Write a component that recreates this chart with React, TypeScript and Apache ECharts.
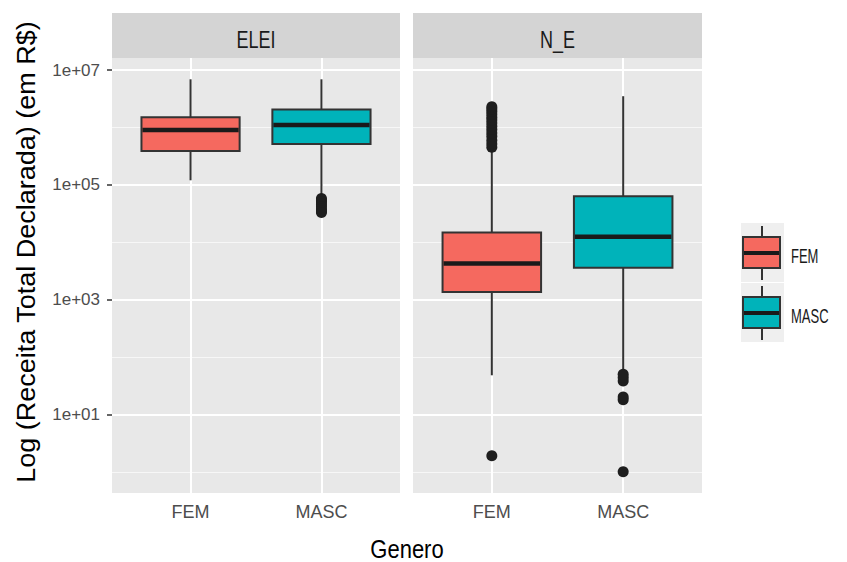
import React, { useEffect, useRef } from "react";
import * as echarts from "echarts";

// ---------- data ----------
const CATEGORIES = ["FEM", "MASC"];
const FACETS = ["ELEI", "N_E"];
// box statistics [lower whisker, Q1, median, Q3, upper whisker] in R$
const ELEI_FEM = [120000, 390000, 900000, 1500000, 6900000];
const ELEI_MASC = [63000, 512000, 1100000, 2060000, 6900000];
const NE_FEM = [48, 1360, 4250, 14800, 400000];
const NE_MASC = [58, 3600, 12400, 63000, 3500000];
// outliers in R$
const ELEI_FEM_OUT: number[] = [];
const ELEI_MASC_OUT = [58000, 54000, 50000, 46000, 42000, 38000, 35000, 33000];
const NE_FEM_OUT = [1.9, 450000, 520000, 600000, 700000, 800000, 920000, 1050000, 1200000, 1350000, 1500000, 1700000, 1900000, 2100000, 2300000];
const NE_MASC_OUT = [1, 18, 20, 38, 44, 50];
// y axis (log10 exponents)
const Y_MAJOR = [1, 3, 5, 7];
const Y_MINOR = [0, 2, 4, 6];
const Y_TICK_LABELS = ["1e+01", "1e+03", "1e+05", "1e+07"];

const COLORS = ["#F5695F", "#00B3BA"];
const FONT = "Liberation Sans, Arial, Helvetica, sans-serif";

const lg = (v: number) => Math.log10(v);

const PANELS = [
  { left: 112, width: 288, boxes: [ELEI_FEM, ELEI_MASC], outs: [ELEI_FEM_OUT, ELEI_MASC_OUT] },
  { left: 413, width: 289, boxes: [NE_FEM, NE_MASC], outs: [NE_FEM_OUT, NE_MASC_OUT] },
];
const TOP = 58;
const HEIGHT = 435;

function renderBox(params: any, api: any) {
  const x = api.value(0);
  const pts = [1, 2, 3, 4, 5].map((i) => api.coord([x, api.value(i)]));
  const cx = pts[0][0];
  const w = api.size([0.75, 0])[0];
  const stroke = "#333333";
  const fill = COLORS[params.dataIndex];
  return {
    type: "group",
    children: [
      { type: "line", shape: { x1: cx, y1: pts[4][1], x2: cx, y2: pts[3][1] }, style: { stroke, lineWidth: 2 } },
      { type: "line", shape: { x1: cx, y1: pts[1][1], x2: cx, y2: pts[0][1] }, style: { stroke, lineWidth: 2 } },
      {
        type: "rect",
        shape: { x: cx - w / 2, y: pts[3][1], width: w, height: pts[1][1] - pts[3][1] },
        style: { fill, stroke, lineWidth: 2 },
      },
      {
        type: "line",
        shape: { x1: cx - w / 2 + 1, y1: pts[2][1], x2: cx + w / 2 - 1, y2: pts[2][1] },
        style: { stroke: "#1A1A1A", lineWidth: 4.5 },
      },
    ],
  };
}

function buildOption() {
  const grid: any[] = [];
  const xAxis: any[] = [];
  const yAxis: any[] = [];
  const series: any[] = [];
  const graphic: any[] = [];

  PANELS.forEach((p, pi) => {
    grid.push({
      left: p.left,
      top: TOP,
      width: p.width,
      height: HEIGHT,
      show: true,
      backgroundColor: "#E8E8E8",
      borderWidth: 0,
    });
    xAxis.push({
      gridIndex: pi,
      type: "value",
      min: 0.4,
      max: 2.6,
      axisLine: { show: false },
      splitLine: { show: false },
      axisTick: {
        show: true,
        customValues: CATEGORIES.map((_, i) => i + 1),
        length: 5,
        lineStyle: { color: "#333333", width: 1.5 },
      },
      axisLabel: {
        show: true,
        customValues: CATEGORIES.map((_, i) => i + 1),
        formatter: (v: number) => CATEGORIES[Math.round(v) - 1] ?? "",
        color: "#4D4D4D",
        fontSize: 18,
        fontFamily: FONT,
        margin: 10,
      },
    });
    yAxis.push({
      gridIndex: pi,
      type: "value",
      min: -0.37,
      max: 7.21,
      axisLine: { show: false },
      splitLine: { show: false },
      axisTick: {
        show: pi === 0,
        customValues: Y_MAJOR,
        length: 5,
        lineStyle: { color: "#333333", width: 1.5 },
      },
      axisLabel: {
        show: pi === 0,
        customValues: Y_MAJOR,
        formatter: (v: number) => Y_TICK_LABELS[Y_MAJOR.indexOf(Math.round(v))] ?? "",
        color: "#4D4D4D",
        fontSize: 17,
        fontFamily: FONT,
        margin: 12,
      },
    });

    // grid lines
    series.push({
      type: "line",
      xAxisIndex: pi,
      yAxisIndex: pi,
      data: [],
      silent: true,
      z: 1,
      markLine: {
        z: 1,
        silent: true,
        animation: false,
        symbol: ["none", "none"],
        label: { show: false },
        lineStyle: { color: "#FFFFFF", type: "solid" },
        data: [
          ...Y_MINOR.map((v) => ({ yAxis: v, lineStyle: { width: 1.2, color: "#F7F7F7", type: "solid" } })),
          ...Y_MAJOR.map((v) => ({ yAxis: v, lineStyle: { width: 2.2, color: "#FFFFFF", type: "solid" } })),
          ...CATEGORIES.map((_, i) => ({ xAxis: i + 1, lineStyle: { width: 2, color: "#FFFFFF", type: "solid" } })),
        ],
      },
    });

    series.push({
      type: "custom",
      name: FACETS[pi],
      xAxisIndex: pi,
      yAxisIndex: pi,
      z: 3,
      renderItem: renderBox,
      encode: { x: 0, y: [1, 2, 3, 4, 5] },
      data: p.boxes.map((b, i) => [i + 1, ...b.map(lg)]),
    });

    const outData: number[][] = [];
    p.outs.forEach((arr, i) => arr.forEach((v) => outData.push([i + 1, lg(v)])));
    series.push({
      type: "scatter",
      xAxisIndex: pi,
      yAxisIndex: pi,
      z: 4,
      symbol: "circle",
      symbolSize: 11,
      itemStyle: { color: "#1E1E1E", opacity: 1 },
      data: outData,
    });

    // strip
    graphic.push({
      type: "rect",
      shape: { x: p.left, y: 13, width: p.width, height: TOP - 13 },
      style: { fill: "#D4D4D4" },
      silent: true,
    });
    graphic.push({
      type: "text",
      x: p.left + p.width / 2,
      y: 40,
      scaleY: 1.3,
      style: {
        text: FACETS[pi],
        fill: "#1A1A1A",
        fontSize: 18,
        fontFamily: FONT,
        textAlign: "center",
        textVerticalAlign: "middle",
      },
      silent: true,
    });
  });

  // axis titles
  graphic.push({
    type: "text",
    x: 407,
    y: 549,
    scaleY: 1.15,
    style: {
      text: "Genero",
      fill: "#000000",
      fontSize: 22,
      fontFamily: FONT,
      textAlign: "center",
      textVerticalAlign: "middle",
    },
    silent: true,
  });
  graphic.push({
    type: "text",
    x: 26,
    y: 252,
    rotation: Math.PI / 2,
    scaleX: 1.08,
    style: {
      text: "Log (Receita Total Declarada) (em R$)",
      fill: "#000000",
      fontSize: 25,
      fontFamily: FONT,
      textAlign: "center",
      textVerticalAlign: "middle",
    },
    silent: true,
  });

  // legend keys
  const keys = [
    { top: 223, label: CATEGORIES[0], color: COLORS[0] },
    { top: 283, label: CATEGORIES[1], color: COLORS[1] },
  ];
  keys.forEach((k) => {
    const cx = 762;
    graphic.push({ type: "rect", shape: { x: 741, y: k.top, width: 43, height: 59 }, style: { fill: "#EFEFEF" }, silent: true });
    graphic.push({
      type: "line",
      shape: { x1: cx, y1: k.top + 3, x2: cx, y2: k.top + 57 },
      style: { stroke: "#333333", lineWidth: 2 },
      silent: true,
    });
    graphic.push({
      type: "rect",
      shape: { x: 743, y: k.top + 14, width: 37, height: 31 },
      style: { fill: k.color, stroke: "#333333", lineWidth: 2 },
      silent: true,
    });
    graphic.push({
      type: "line",
      shape: { x1: 744, y1: k.top + 30, x2: 779, y2: k.top + 30 },
      style: { stroke: "#1A1A1A", lineWidth: 4 },
      silent: true,
    });
    graphic.push({
      type: "text",
      x: 791,
      y: k.top + 33,
      scaleY: 1.6,
      style: {
        text: k.label,
        fill: "#1A1A1A",
        fontSize: 13,
        fontFamily: FONT,
        textAlign: "left",
        textVerticalAlign: "middle",
      },
      silent: true,
    });
  });

  return {
    animation: false,
    backgroundColor: "#FFFFFF",
    textStyle: { fontFamily: FONT },
    grid,
    xAxis,
    yAxis,
    series,
    graphic,
  };
}

export default function App() {
  const ref = useRef<HTMLDivElement>(null);
  useEffect(() => {
    document.body.style.margin = "0";
    if (!ref.current) return;
    const chart = echarts.init(ref.current, undefined, { renderer: "svg" });
    chart.setOption(buildOption() as any);
    return () => chart.dispose();
  }, []);
  return (
    <div
      ref={ref}
      style={{ position: "absolute", left: 0, top: 0, width: 847, height: 562 }}
    />
  );
}
